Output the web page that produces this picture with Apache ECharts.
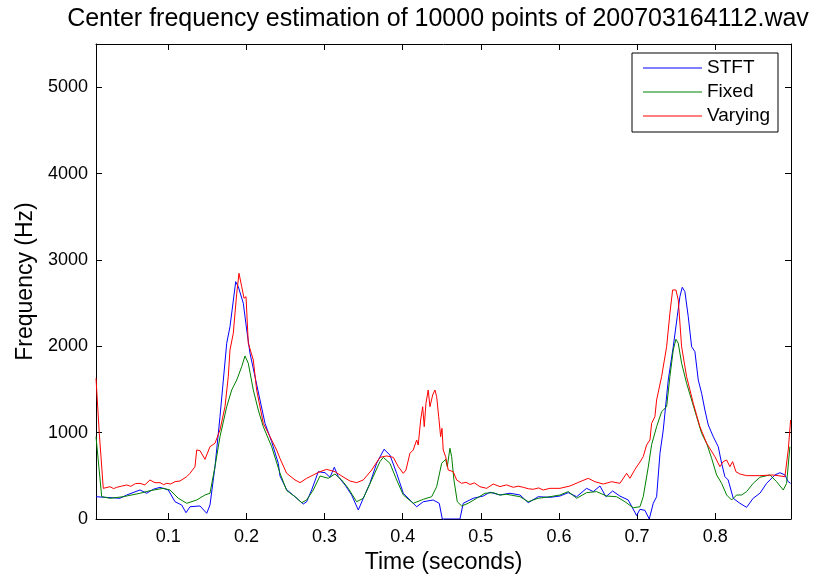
<!DOCTYPE html>
<html><head><meta charset="utf-8">
<script src="https://cdn.jsdelivr.net/npm/echarts@6/dist/echarts.min.js"></script>
<style>html,body{margin:0;padding:0;background:#fff}#c{width:829px;height:576px}</style>
</head><body><div id="c"></div>
<script>
var titleText = 'Center frequency estimation of 10000 points of 200703164112.wav';
var xTicks = [0.1, 0.2, 0.3, 0.4, 0.5, 0.6, 0.7, 0.8];
var yTicks = [0, 1000, 2000, 3000, 4000, 5000];
var seriesNames = ['STFT', 'Fixed', 'Varying'];

var stftTime = [0.0075,0.0382,0.0468,0.0638,0.0724,0.0808,0.0894,0.1000,0.1086,0.1172,0.1227,0.1278,0.1406,0.1492,0.1534,0.1598,0.1662,0.1748,0.1790,0.1863,0.1896,0.1960,0.2004,0.2046,0.2110,0.2174,0.2238,0.2323,0.2408,0.2430,0.2515,0.2622,0.2728,0.2771,0.2835,0.2920,0.3006,0.3070,0.3125,0.3176,0.3262,0.3347,0.3432,0.3496,0.3581,0.3667,0.3761,0.3837,0.3923,0.4008,0.4093,0.4179,0.4264,0.4391,0.4468,0.4507,0.4733,0.4775,0.4903,0.5031,0.5117,0.5245,0.5373,0.5501,0.5607,0.5735,0.5885,0.6013,0.6119,0.6227,0.6354,0.6439,0.6525,0.6601,0.6687,0.6781,0.6887,0.6994,0.7037,0.7101,0.7156,0.7207,0.7250,0.7293,0.7335,0.7399,0.7463,0.7514,0.7548,0.7578,0.7612,0.7655,0.7698,0.7740,0.7783,0.7826,0.7868,0.7911,0.7975,0.8039,0.8082,0.8124,0.8166,0.8231,0.8316,0.8402,0.8486,0.8572,0.8658,0.8764,0.8828,0.8892,0.8935,0.8965];
var stftFreq = [258,240,278,336,298,344,367,336,200,162,73,142,151,66,162,606,1185,2035,2227,2748,2690,2498,2189,1919,1648,1378,1108,895,645,498,340,258,174,200,336,548,536,483,599,490,394,278,104,240,413,645,807,741,529,298,220,142,200,220,182,0,0,182,240,266,310,278,298,278,189,258,251,266,305,258,355,317,382,258,324,265,220,40,112,100,0,182,258,761,1031,1610,1995,2343,2575,2683,2633,2343,1995,1938,1610,1456,1262,1089,953,837,645,490,452,240,182,135,240,298,413,510,536,510,432,413];

var fixedTime = [0.0075,0.0148,0.0254,0.0424,0.0638,0.0766,0.0936,0.1022,0.1128,0.1236,0.1364,0.1470,0.1534,0.1598,0.1662,0.1748,0.1812,0.1876,0.1940,0.1982,0.2024,0.2088,0.2152,0.2216,0.2323,0.2430,0.2515,0.2622,0.2707,0.2771,0.2856,0.2942,0.3048,0.3133,0.3219,0.3304,0.3411,0.3496,0.3603,0.3709,0.3752,0.3837,0.3923,0.4008,0.4135,0.4264,0.4371,0.4435,0.4499,0.4550,0.4571,0.4605,0.4627,0.4656,0.4699,0.4755,0.4839,0.4947,0.5053,0.5159,0.5245,0.5331,0.5501,0.5607,0.5735,0.5885,0.6013,0.6119,0.6227,0.6354,0.6482,0.6610,0.6738,0.6845,0.6951,0.7037,0.7079,0.7143,0.7186,0.7250,0.7314,0.7378,0.7420,0.7463,0.7497,0.7527,0.7570,0.7634,0.7698,0.7762,0.7826,0.7890,0.7954,0.8018,0.8082,0.8146,0.8210,0.8274,0.8338,0.8402,0.8486,0.8572,0.8700,0.8786,0.8871,0.8914,0.8956];
var fixedFreq = [953,258,240,258,298,328,355,336,240,182,220,278,298,606,953,1300,1494,1610,1764,1888,1803,1494,1262,1069,837,530,330,258,189,220,336,498,471,521,452,355,200,240,452,664,714,645,452,278,182,228,258,374,645,691,606,819,722,452,200,151,182,240,298,305,278,286,258,200,240,258,278,317,240,305,317,266,258,200,130,142,258,600,860,1069,1243,1300,1648,1957,2081,2035,1803,1571,1378,1185,992,877,703,510,413,278,220,278,278,317,413,483,510,432,336,413,837];

var varyingTime = [0.0075,0.0117,0.0168,0.0254,0.0300,0.0340,0.0400,0.0468,0.0520,0.0580,0.0638,0.0700,0.0766,0.0830,0.0894,0.0940,0.0980,0.1030,0.1086,0.1150,0.1236,0.1278,0.1342,0.1364,0.1406,0.1470,0.1534,0.1598,0.1662,0.1726,0.1768,0.1790,0.1832,0.1876,0.1905,0.1940,0.1969,0.1995,0.2024,0.2088,0.2131,0.2216,0.2302,0.2387,0.2430,0.2515,0.2622,0.2686,0.2771,0.2856,0.2942,0.3027,0.3133,0.3219,0.3325,0.3411,0.3496,0.3603,0.3709,0.3795,0.3880,0.3944,0.4008,0.4042,0.4093,0.4135,0.4179,0.4199,0.4230,0.4256,0.4276,0.4298,0.4327,0.4349,0.4384,0.4413,0.4435,0.4461,0.4486,0.4503,0.4519,0.4550,0.4583,0.4647,0.4691,0.4755,0.4810,0.4861,0.4920,0.4989,0.5075,0.5159,0.5245,0.5330,0.5415,0.5480,0.5543,0.5610,0.5671,0.5740,0.5799,0.5885,0.6013,0.6141,0.6269,0.6375,0.6461,0.6567,0.6674,0.6781,0.6866,0.6909,0.6973,0.7037,0.7079,0.7122,0.7165,0.7186,0.7228,0.7250,0.7314,0.7378,0.7420,0.7455,0.7497,0.7527,0.7570,0.7634,0.7719,0.7804,0.7890,0.7996,0.8060,0.8102,0.8146,0.8188,0.8223,0.8265,0.8316,0.8402,0.8572,0.8742,0.8892,0.8935,0.8965];
var varyingFreq = [1629,992,355,374,352,367,380,394,378,410,413,395,452,420,421,398,413,405,432,440,490,529,606,799,791,691,837,877,1031,1300,1648,1957,2150,2613,2845,2690,2556,2574,2035,1842,1494,1108,953,799,700,529,452,421,471,510,548,575,548,498,440,421,452,567,714,730,714,606,529,567,761,799,915,857,1146,1300,1069,1340,1494,1300,1436,1494,1416,1185,953,1050,799,722,567,548,452,413,425,400,418,374,355,405,375,395,367,380,367,350,344,360,336,355,355,382,432,471,432,405,432,413,529,471,575,660,722,857,915,1108,1185,1378,1650,1995,2382,2652,2652,2536,1995,1648,1340,1069,877,722,606,664,683,606,664,548,521,502,502,510,490,799,1146];

function pairs(t, f) { return t.map(function (v, i) { return [v, f[i]]; }); }

var FONT = 'Liberation Sans';
var chart = echarts.init(document.getElementById('c'), null, { renderer: 'canvas' });
var axisLine = { show: true, onZero: false, lineStyle: { color: '#000', width: 1 } };
var tickIn = { show: true, inside: true, length: 6, lineStyle: { color: '#000', width: 1 } };

chart.setOption({
  animation: false,
  backgroundColor: '#fff',
  grid: { left: 96, right: 38, top: 44, bottom: 57, containLabel: false, outerBoundsMode: 'none' },
  graphic: [{
    type: 'text', x: 438, y: 19,
    style: { text: titleText, font: '25px "' + FONT + '"', fill: '#000', textAlign: 'center', textVerticalAlign: 'middle' }
  }],
  legend: {
    orient: 'vertical', left: 632, top: 53,
    data: seriesNames,
    icon: 'rect', itemWidth: 59, itemHeight: 1.2, itemGap: 4,
    padding: [5, 8, 6, 11],
    backgroundColor: '#fff', borderColor: '#000', borderWidth: 1,
    textStyle: { fontFamily: FONT, fontSize: 19, color: '#000', lineHeight: 20 }
  },
  xAxis: [{
    type: 'value', position: 'bottom', min: 0.0075, max: 0.897,
    name: 'Time (seconds)', nameLocation: 'middle', nameGap: 29,
    nameTextStyle: { fontFamily: FONT, fontSize: 23, color: '#000' },
    axisLine: axisLine,
    axisTick: Object.assign({ customValues: xTicks }, tickIn),
    axisLabel: { customValues: xTicks, fontFamily: FONT, fontSize: 18, color: '#000', margin: 9,
      formatter: function (v) { return v.toFixed(1); } },
    splitLine: { show: false }
  }, {
    type: 'value', position: 'top', min: 0.0075, max: 0.897,
    axisLine: axisLine,
    axisTick: Object.assign({ customValues: xTicks }, tickIn),
    axisLabel: { show: false },
    splitLine: { show: false }
  }],
  yAxis: [{
    type: 'value', position: 'left', min: 0, max: 5500,
    name: 'Frequency (Hz)', nameLocation: 'middle', nameGap: 43,
    nameTextStyle: { fontFamily: FONT, fontSize: 23, color: '#000' },
    axisLine: axisLine,
    axisTick: Object.assign({ customValues: yTicks }, tickIn),
    axisLabel: { customValues: yTicks, fontFamily: FONT, fontSize: 18, color: '#000', margin: 8,
      formatter: function (v) { return String(v); } },
    splitLine: { show: false }
  }, {
    type: 'value', position: 'right', min: 0, max: 5500,
    axisLine: axisLine,
    axisTick: Object.assign({ customValues: yTicks }, tickIn),
    axisLabel: { show: false },
    splitLine: { show: false }
  }],
  series: [
    { name: seriesNames[0], type: 'line', data: pairs(stftTime, stftFreq), symbol: 'none', color: '#0000ff', lineStyle: { width: 1, color: '#0000ff' }, clip: true },
    { name: seriesNames[1], type: 'line', data: pairs(fixedTime, fixedFreq), symbol: 'none', color: '#008000', lineStyle: { width: 1, color: '#008000' }, clip: true },
    { name: seriesNames[2], type: 'line', data: pairs(varyingTime, varyingFreq), symbol: 'none', color: '#ff0000', lineStyle: { width: 1, color: '#ff0000' }, clip: true }
  ]
});
</script></body></html>
